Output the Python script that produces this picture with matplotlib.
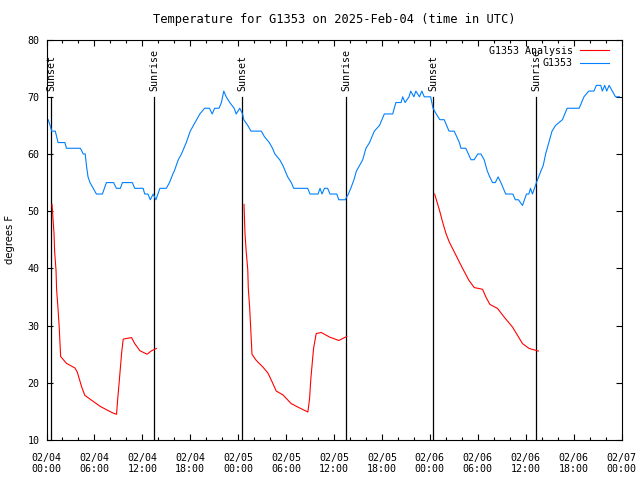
import numpy as np
import matplotlib
matplotlib.use("Agg")
import matplotlib.pyplot as plt
import matplotlib.dates as mdates

# hours since 2025-02-04 00:00 UTC
obs_hours = [0.2, 0.45, 0.65, 1.1, 1.45, 2.3, 2.5, 4.25, 4.6, 4.85, 5.0, 5.2, 5.45, 5.85,
             6.25, 7.0, 7.5, 8.4, 8.75, 9.25, 9.5, 10.75, 11.05, 12.1, 12.3, 12.7, 13.0,
             13.35, 13.7, 14.2, 15.0, 15.4, 15.85, 16.0, 16.5, 16.9, 17.5, 18.0, 18.4,
             19.2, 19.8, 20.4, 20.75, 21.05, 21.6, 21.9, 22.2, 22.5, 22.95, 23.5, 23.75,
             24.2, 24.55, 24.7, 25.2, 25.6, 26.9, 27.3, 27.9, 28.3, 28.6, 29.2, 29.6,
             29.9, 30.2, 30.65, 30.95, 32.7, 33.0, 34.0, 34.25, 34.5, 34.8, 35.2, 35.5,
             36.35, 36.6, 37.4, 37.8, 38.1, 38.5, 38.8, 39.2, 39.6, 40.0, 40.45, 41.05,
             41.7, 42.0, 42.3, 43.35, 43.75, 44.4, 44.6, 44.9, 45.4, 45.6, 46.0, 46.25,
             46.7, 47.0, 47.3, 48.1, 48.4, 48.8, 49.25, 49.8, 50.4, 51.05, 51.7, 51.9,
             52.5, 53.15, 53.55, 54.0, 54.4, 54.8, 55.2, 55.5, 55.85, 56.2, 56.55, 56.9,
             57.2, 57.5, 58.4, 58.7, 59.1, 59.6, 60.1, 60.4, 60.6, 60.85, 61.35, 61.9,
             62.2, 62.5, 62.9, 63.3, 63.75, 64.6, 64.9, 65.2, 66.7, 67.0, 67.3, 67.9,
             68.55, 68.85, 69.4, 69.6, 69.9, 70.15, 70.45, 70.85, 71.25, 71.75]
obs_temp = [66, 65, 64, 64, 62, 62, 61, 61, 60, 60, 58, 56, 55, 54,
            53, 53, 55, 55, 54, 54, 55, 55, 54, 54, 53, 53, 52,
            53, 52, 54, 54, 55, 56.6, 57, 59, 60, 62, 64, 65,
            67, 68, 68, 67, 68, 68, 69, 71, 70, 69, 68, 67,
            68, 67, 66, 65, 64, 64, 63, 62, 61, 60, 59, 58,
            57, 56, 55, 54, 54, 53, 53, 54, 53, 54, 54, 53,
            53, 52, 52, 53, 54, 55.5, 57, 58, 59, 61, 62, 64,
            65, 66, 67, 67, 69, 69, 70, 69, 70, 71, 70, 71,
            70, 71, 70, 70, 68, 67, 66, 66, 64, 64, 62, 61,
            61, 59, 59, 60, 60, 59, 57, 56, 55, 55, 56, 55,
            54, 53, 53, 52, 52, 51, 53, 53, 54, 53, 55, 57,
            58, 60, 62, 64, 65, 66, 67, 68, 68, 69, 70, 71,
            71, 72, 72, 71, 72, 71, 72, 71, 70, 70]

ana1_hours = [0.69, 0.77, 0.94, 1.02, 1.19, 1.27, 1.44, 1.6, 1.77, 2.5, 3.55, 3.85, 4.4,
              4.8, 5.85, 6.7, 7.5, 8.35, 8.77, 8.9, 9.1, 9.4, 9.6, 9.8, 10.65, 11.05,
              11.7, 12.6, 13.15, 13.77]
ana1_temp = [51.2, 49.6, 46.1, 42.9, 39.7, 36.2, 33.0, 29.5, 24.6, 23.4, 22.6, 21.9, 19.3,
             17.8, 16.75, 15.9, 15.3, 14.7, 14.5, 16.9, 20.1, 25.1, 27.6, 27.7, 27.9, 26.85,
             25.6, 25.0, 25.6, 26.0]
ana2_hours = [24.73, 24.85, 25.0, 25.2, 25.27, 25.44, 25.56, 25.73, 26.27, 27.1, 27.73,
              28.27, 28.77, 29.6, 30.65, 31.7, 32.73, 32.94, 33.1, 33.44, 33.77, 34.4,
              35.44, 36.6, 37.6]
ana2_temp = [51.2, 46.2, 43.05, 39.8, 36.5, 33.1, 29.8, 25.0, 23.9, 22.75, 21.7,
             20.1, 18.55, 17.9, 16.35, 15.6, 14.9, 17.2, 20.7, 26.0, 28.6, 28.8,
             28.0, 27.4, 28.1]
ana3_hours = [48.6, 49.2, 49.6, 50.02, 50.44, 51.27, 52.1, 52.9, 53.56, 54.6, 55.02, 55.52,
              56.48, 57.3, 58.35, 58.98, 59.6, 60.44, 61.6]
ana3_temp = [53.0, 50.2, 48.1, 46.1, 44.6, 42.3, 40.0, 37.9, 36.65, 36.35, 35.0, 33.7,
             33.0, 31.5, 29.75, 28.3, 26.85, 26.0, 25.55]

sun_hours = [0.62, 13.5, 24.48, 37.5, 48.44, 61.35]
sun_names = ["Sunset", "Sunrise", "Sunset", "Sunrise", "Sunset", "Sunrise"]

base = np.datetime64("2025-02-04T00:00")


def to_time(h):
    return base + (np.array(h) * 3600).astype("timedelta64[s]")


plt.rcParams["font.family"] = "DejaVu Sans Mono"
plt.rcParams["font.size"] = 7.2

fig = plt.figure(figsize=(6.4, 4.8), dpi=100)
ax = fig.add_axes([46.5 / 640, 1 - 440 / 480, 575 / 640, 400.4 / 480])

for h, name in zip(sun_hours, sun_names):
    t = to_time(h)
    ax.plot([t, t], [10, 70], color="black", lw=0.9)
    ax.annotate(name, (t, 70), xytext=(0, 4), textcoords="offset points",
                rotation=90, ha="center", va="bottom")

ax.plot(to_time(ana1_hours), ana1_temp, color="#ff0000", lw=0.8, label="G1353 Analysis")
ax.plot(to_time(ana2_hours), ana2_temp, color="#ff0000", lw=0.8)
ax.plot(to_time(ana3_hours), ana3_temp, color="#ff0000", lw=0.8)
ax.plot(to_time(obs_hours), obs_temp, color="#0080ff", lw=0.8, label="G1353")

ax.set_xlim(base, base + np.timedelta64(72, "h"))
ax.set_ylim(10, 80)
ax.set_yticks(range(10, 81, 10))
ax.xaxis.set_major_locator(mdates.HourLocator(byhour=[0, 6, 12, 18]))
ax.xaxis.set_minor_locator(mdates.HourLocator(byhour=range(0, 24, 2)))
ax.xaxis.set_major_formatter(mdates.DateFormatter("%m/%d\n%H:%M"))
ax.tick_params(which="both", direction="in", top=True, right=True, width=0.8)
ax.tick_params(which="major", length=4.5)
ax.tick_params(which="minor", length=2.3)
ax.tick_params(axis="x", pad=9)
ax.tick_params(axis="y", pad=5)
for s in ax.spines.values():
    s.set_linewidth(0.8)

ax.set_ylabel("degrees F", fontfamily="DejaVu Sans", labelpad=9)
ax.set_title("Temperature for G1353 on 2025-Feb-04 (time in UTC)", pad=12)

ax.legend(loc="upper right", bbox_to_anchor=(0.978, 0.985), frameon=False,
          markerfirst=False, handlelength=2.9, borderpad=0, borderaxespad=0,
          labelspacing=0.25, handletextpad=0.7)

fig.savefig("out.png", dpi=100)
